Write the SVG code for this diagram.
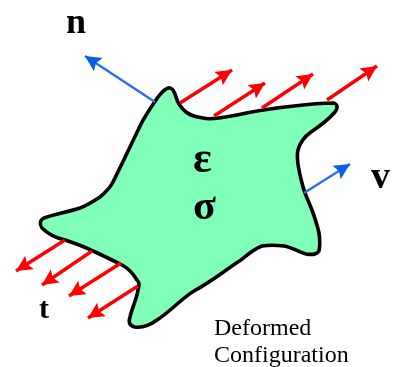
<svg xmlns="http://www.w3.org/2000/svg" width="394" height="367" viewBox="0 0 394 367">
<style>
text{font-family:"Liberation Serif","Times New Roman",serif;fill:#000}
.b{font-weight:bold}
.r{stroke:#ff0000;stroke-width:3.4;fill:none;marker-end:url(#rh)}
.u{stroke:#2a6ee8;stroke-width:2.4;fill:none;marker-end:url(#bh)}
</style>
<defs>
<marker id="rh" markerUnits="userSpaceOnUse" markerWidth="20" markerHeight="18" refX="16" refY="8" orient="auto"><path d="M0 0L16 8L0 16L3 8z" fill="#ff0000"/></marker>
<marker id="bh" markerUnits="userSpaceOnUse" markerWidth="20" markerHeight="18" refX="16" refY="8" orient="auto"><path d="M0 0L16 8L0 16L3 8z" fill="#0a5ce8"/></marker>
<filter id="s" x="-5%" y="-5%" width="110%" height="110%"><feGaussianBlur stdDeviation="0.5"/></filter>
</defs>
<g id="scene" filter="url(#s)">
<g id="body"><path d="M168 88C172 87 174 90 176 97C178 104 181 108 186 112C191 116 196 117 203 118C210 120 222 118 237 115C255 111 275 108 294 106C310 104 325 103 334 103C338 105 338 108 335 112C328 120 320 126 311 132C304 137 300 142 298 150C296 158 298 168 302 183C304 192 307 198 310 205C314 215 317 224 319 233C320 240 320 246 319 251C316 255 312 255 306 254C298 252 292 247 284 246C276 245 268 245 262 246C256 248 248 254 241 260C228 268 214 280 194 291C182 298 170 312 157 320C150 325 142 328 135 327C130 326 128 323 130 317C132 308 137 298 138 290C139 285 140 283 137 280C132 272 128 268 122 265C112 260 102 255 93 251C83 246 74 243 65 240C56 238 47 233 42 228C39 224 40 220 44 218C55 214 68 212 80 208C88 205 94 201 100 197C106 192 110 188 113 182C122 164 131 145 140 126C146 114 152 106 158 97C162 92 165 89 168 88Z" fill="#80ffb8" stroke="#000" stroke-width="3.6"/></g>
<g id="connectors">
<path class="u" d="M155 102L85 56"/>
<path class="u" d="M304 193L350 164"/>
<path class="r" d="M180 103L232 70"/>
<path class="r" d="M214 116L265 83"/>
<path class="r" d="M262 108L313 74"/>
<path class="r" d="M327 100L377 66"/>
<path class="r" d="M65 240L16 271"/>
<path class="r" d="M92 251L42 285"/>
<path class="r" d="M121 263L69 296"/>
<path class="r" d="M138 286L88 318"/>
</g>
<g id="labels">
<text class="b" x="66" y="33" font-size="36">n</text>
<text class="b" x="371" y="188" font-size="38">v</text>
<text class="b" x="39" y="318" font-size="30">t</text>
<text class="b" x="193" y="172" font-size="44">ε</text>
<text class="b" x="193" y="219" font-size="42">σ</text>
<text x="214" y="335" font-size="24">Deformed</text>
<text x="214" y="362" font-size="24">Configuration</text>
</g>
</g>
</svg>
